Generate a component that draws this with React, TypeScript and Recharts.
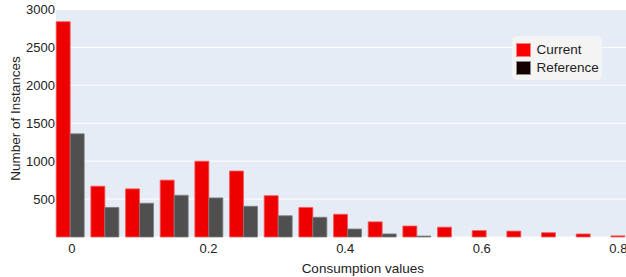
import * as React from 'react';
import {
  BarChart,
  Bar,
  XAxis,
  YAxis,
  CartesianGrid,
  Legend,
  Label,
} from 'recharts';

// bin centres of the histogram (width 0.05)
const binCenters = [0, 0.05, 0.1, 0.15, 0.2, 0.25, 0.3, 0.35, 0.4, 0.45, 0.5, 0.55, 0.6, 0.65, 0.7, 0.75, 0.8];
const currentCounts = [2840, 670, 635, 750, 1000, 870, 545, 390, 300, 200, 145, 130, 85, 78, 57, 40, 15];
const referenceCounts = [1360, 390, 445, 550, 515, 405, 280, 260, 105, 40, 12, 0, 0, 0, 0, 0, 0];
const xTicks = [0, 0.2, 0.4, 0.6, 0.8];
const yTicks = [500, 1000, 1500, 2000, 2500, 3000];

const FONT = '"Liberation Sans", Arial, Helvetica, sans-serif';
const TEXT = '#222';

const legendColors: Record<string, string> = {
  Current: '#ff0000',
  Reference: '#140000',
};

const data = binCenters.map((x, i) => ({
  bin: String(x),
  x,
  current: currentCounts[i],
  reference: referenceCounts[i],
}));

const renderLegend = (props: any) => {
  const { payload } = props;
  return (
    <div
      style={{
        background: '#f4f4f4',
        borderRadius: 5,
        width: 90,
        height: 44,
        boxSizing: 'border-box',
        padding: '5px 0 0 4px',
        fontFamily: FONT,
        fontSize: 13.5,
        color: TEXT,
      }}
    >
      {payload.map((entry: any, i: number) => (
        <div key={`lg-${i}`} style={{ display: 'flex', alignItems: 'center', height: 18.6 }}>
          <span
            style={{
              width: 15,
              height: 14,
              boxSizing: 'border-box',
              background: legendColors[entry.value],
              border: `1px solid ${i === 0 ? '#f58080' : '#8a8a8a'}`,
            }}
          />
          <span style={{ marginLeft: 6, lineHeight: '14px' }}>{entry.value}</span>
        </div>
      ))}
    </div>
  );
};

export default function App() {
  return (
    <div
      style={{
        position: 'absolute',
        left: 0,
        top: 0,
        width: 626,
        height: 277,
        overflow: 'hidden',
        background: '#fff',
      }}
    >
      <BarChart
        width={642}
        height={277}
        data={data}
        margin={{ top: 9.5, right: 0, bottom: 0, left: 0 }}
        barCategoryGap={3.5}
        barGap={0}
      >
        <CartesianGrid vertical={false} stroke="#ffffff" strokeWidth={1} fill="#e5ecf6" />
        <XAxis dataKey="bin" hide height={0} padding={{ left: -3.3, right: 0 }} />
        <XAxis
          xAxisId="num"
          dataKey="x"
          type="number"
          domain={[-0.0234, 0.8346]}
          allowDataOverflow
          ticks={xTicks}
          tickFormatter={(v: number) => String(v)}
          axisLine={false}
          tickLine={false}
          tickSize={0}
          tickMargin={7}
          height={40}
          tick={{ fontSize: 13, fill: TEXT, fontFamily: FONT }}
        >
          <Label
            content={() => (
              <text
                x={362.8}
                y={272.5}
                textAnchor="middle"
                fontSize={13.5}
                fontFamily={FONT}
                fill={TEXT}
              >
                Consumption values
              </text>
            )}
          />
        </XAxis>
        <YAxis
          domain={[0, 3000]}
          ticks={yTicks}
          width={56}
          axisLine={false}
          tickLine={false}
          tickSize={0}
          tickMargin={1}
          tick={{ fontSize: 13, fill: TEXT, fontFamily: FONT }}
        >
          <Label
            content={() => (
              <text
                x={15}
                y={118.5}
                transform="rotate(-90 15 118.5)"
                textAnchor="middle"
                dominantBaseline="central"
                fontSize={13.5}
                fontFamily={FONT}
                fill={TEXT}
              >
                Number of Instances
              </text>
            )}
          />
        </YAxis>
        <Legend
          layout="vertical"
          align="center"
          verticalAlign="middle"
          content={renderLegend}
          wrapperStyle={{ left: 511.5, top: 35.5, width: 90, height: 44 }}
        />
        <Bar
          dataKey="current"
          name="Current"
          fill="#ee0000"
          stroke="#f46060"
          strokeWidth={0.8}
          isAnimationActive={false}
        />
        <Bar
          dataKey="reference"
          name="Reference"
          fill="#4f4f4f"
          stroke="#7c7c7c"
          strokeWidth={0.8}
          isAnimationActive={false}
        />
      </BarChart>
    </div>
  );
}
